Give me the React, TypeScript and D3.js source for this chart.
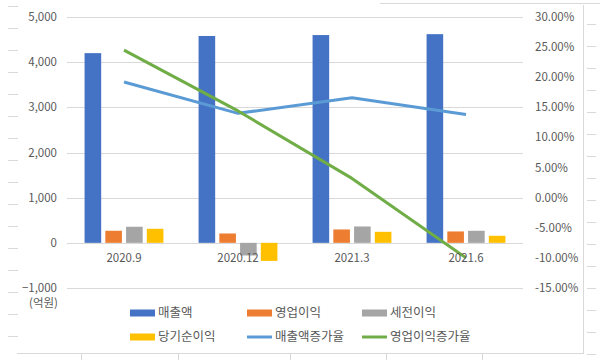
import React from "react";
import * as d3 from "d3";

const categories = ["2020.9", "2020.12", "2021.3", "2021.6"];
const barSeries = ["매출액", "영업이익", "세전이익", "당기순이익"];
const sales = [4200, 4580, 4600, 4620];
const opProfit = [267, 207, 296, 252];
const preTax = [356, -280, 362, 267];
const netProfit = [311, -400, 244, 156];
const salesGrowth = [19.2, 14.0, 16.6, 13.8];
const opGrowth = [24.5, 14.4, 3.2, -10.0];
const leftTicks = [-1000, 0, 1000, 2000, 3000, 4000, 5000];
const rightTicks = [-15, -10, -5, 0, 5, 10, 15, 20, 25, 30];
const barColors = ["#4472C4", "#ED7D31", "#A5A5A5", "#FFC000"];
const lineColors = ["#5B9BD5", "#70AD47"];
const lineSeries = ["매출액증가율", "영업이익증가율"];

const FONT = "'Noto Sans CJK KR', 'Noto Sans', sans-serif";
const TXT = "#595959";
const GRID = "#D9D9D9";

export default function App() {
  const W = 600, H = 360;
  const x = d3.scaleBand<string>().domain(categories).range([67, 523]);
  const yL = d3.scaleLinear().domain([-1000, 5000]).range([288, 17]);
  const yR = d3.scaleLinear().domain([-15, 30]).range([288, 17]);
  const inner = d3.scaleBand<string>().domain(barSeries).range([-41.5, 41.5]).paddingInner(0.2).paddingOuter(0.1);
  const barData = [sales, opProfit, preTax, netProfit];
  const lineData = [salesGrowth, opGrowth];
  const line = d3.line<number>()
    .x((_, i) => (x(categories[i]) as number) + x.bandwidth() / 2)
    .y((d) => yR(d));

  const leftDashes = d3.range(6, 345, 22);
  const rightDashes = d3.range(24, 360, 22);
  const bottomTicks = [81, 178, 290, 386, 482];

  const legendItems = [
    { label: barSeries[0], color: barColors[0], type: "bar", x: 130, y: 313 },
    { label: barSeries[1], color: barColors[1], type: "bar", x: 247, y: 313 },
    { label: barSeries[2], color: barColors[2], type: "bar", x: 362, y: 313 },
    { label: barSeries[3], color: barColors[3], type: "bar", x: 130, y: 337 },
    { label: lineSeries[0], color: lineColors[0], type: "line", x: 247, y: 337 },
    { label: lineSeries[1], color: lineColors[1], type: "line", x: 362, y: 337 },
  ];

  return (
    <svg width={W} height={H} style={{ position: "absolute", left: 0, top: 0, background: "#fff" }} fontFamily={FONT}>
      {/* spreadsheet background artifacts */}
      <g stroke={GRID} strokeWidth={1}>
        {leftDashes.map((y) => (
          <line key={"ld" + y} x1={8} x2={18} y1={y + 0.5} y2={y + 0.5} />
        ))}
        {rightDashes.map((y) => (
          <line key={"rd" + y} x1={587} x2={596} y1={y + 0.5} y2={y + 0.5} />
        ))}
        <line x1={583.5} x2={583.5} y1={5} y2={354} />
        <line x1={17} x2={584} y1={353.5} y2={353.5} />
        <line x1={380} x2={600} y1={3.5} y2={3.5} />
        {bottomTicks.map((bx) => (
          <line key={"bt" + bx} x1={bx + 0.5} x2={bx + 0.5} y1={353} y2={360} />
        ))}
      </g>

      {/* gridlines */}
      <g stroke={GRID} strokeWidth={1}>
        {leftTicks.map((t) => (
          <line key={"g" + t} x1={67} x2={523} y1={Math.round(yL(t)) + 0.5} y2={Math.round(yL(t)) + 0.5} />
        ))}
      </g>

      {/* bars */}
      {barData.map((vals, si) =>
        vals.map((v, ci) => {
          const cx = (x(categories[ci]) as number) + x.bandwidth() / 2;
          const bx = cx + (inner(barSeries[si]) as number);
          const y0 = yL(0), y1 = yL(v);
          return (
            <rect key={si + "-" + ci} x={bx} width={inner.bandwidth()} y={Math.min(y0, y1)} height={Math.abs(y1 - y0)} fill={barColors[si]} />
          );
        })
      )}

      {/* lines */}
      {lineData.map((vals, li) => (
        <path key={"l" + li} d={line(vals) || ""} fill="none" stroke={lineColors[li]} strokeWidth={3} strokeLinejoin="round" />
      ))}

      {/* left axis labels */}
      <g fontSize={11.5} fill={TXT} textAnchor="end">
        {leftTicks.map((t) => (
          <text key={"lt" + t} x={57} y={yL(t)} dy="0.35em">{d3.format(",")(t)}</text>
        ))}
        <text x={58} y={303} dy="0.35em">(억원)</text>
      </g>

      {/* right axis labels */}
      <g fontSize={11.5} fill={TXT} textAnchor="start">
        {rightTicks.map((t) => (
          <text key={"rt" + t} x={535} y={yR(t)} dy="0.35em">{t.toFixed(2) + "%"}</text>
        ))}
      </g>

      {/* category labels */}
      <g fontSize={11.5} fill={TXT} textAnchor="middle">
        {categories.map((c) => (
          <text key={c} x={(x(c) as number) + x.bandwidth() / 2} y={258} dy="0.35em">{c}</text>
        ))}
      </g>

      {/* legend */}
      <g fontSize={12.5} fill={TXT}>
        {legendItems.map((it) => (
          <g key={it.label}>
            {it.type === "bar" ? (
              <rect x={it.x} y={it.y - 3.5} width={25} height={7} fill={it.color} />
            ) : (
              <line x1={it.x} x2={it.x + 25} y1={it.y} y2={it.y} stroke={it.color} strokeWidth={3} />
            )}
            <text x={it.x + 28} y={it.y} dy="0.35em">{it.label}</text>
          </g>
        ))}
      </g>
    </svg>
  );
}
